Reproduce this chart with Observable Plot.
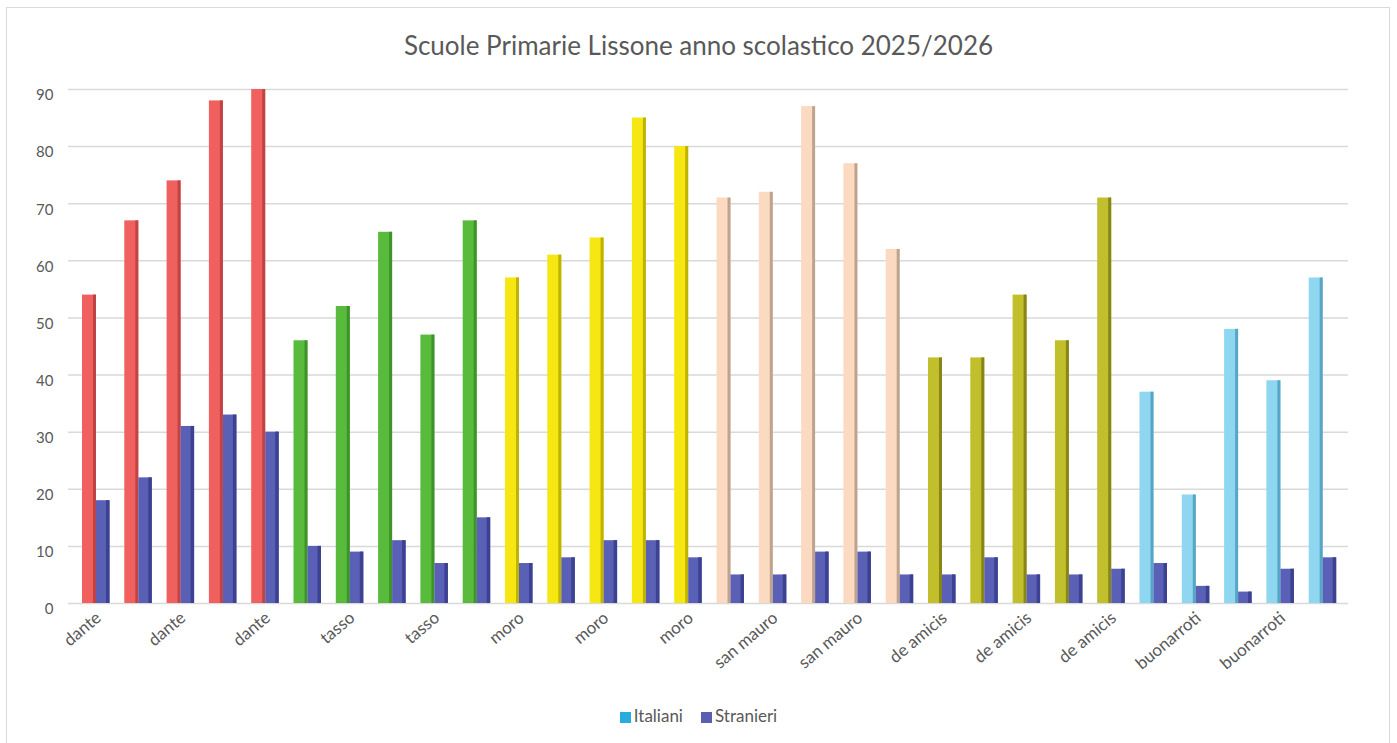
<!DOCTYPE html>
<html>
<head>
<meta charset="utf-8">
<script src="https://cdn.jsdelivr.net/npm/d3@7"></script>
<script src="https://cdn.jsdelivr.net/npm/@observablehq/plot@0.6"></script>
<style>
  html, body { margin: 0; padding: 0; background: #ffffff; }
  #fig { position: relative; width: 1397px; height: 743px; overflow: hidden; font-family: Lato, "Open Sans", sans-serif; }
  #frame { position: absolute; left: 6px; top: 7px; width: 1384px; height: 760px; border: 1px solid #d9d9d9; box-sizing: border-box; }
  #title { position: absolute; left: 0; width: 1397px; top: 28px; text-align: center; font-size: 26px; color: #595959; line-height: 34px; }
  #chart { position: absolute; left: 0; top: 60px; }
  #legend { position: absolute; left: 0; width: 1397px; top: 705px; text-align: center; font-size: 17px; color: #595959; line-height: 22px; }
  #legend span.sw { display: inline-block; width: 11px; height: 11px; margin-right: 3px; vertical-align: -1px; }
  #legend span.item { margin: 0 9px; }
</style>
</head>
<body>
<div id="fig">
  <div id="frame"></div>
  <div id="title">Scuole Primarie Lissone anno scolastico 2025/2026</div>
  <div id="chart"></div>
  <div id="legend"></div>
</div>
<script>
// ---- Data ----
const scuole = [
  "dante","dante","dante","dante","dante",
  "tasso","tasso","tasso","tasso","tasso",
  "moro","moro","moro","moro","moro",
  "san mauro","san mauro","san mauro","san mauro","san mauro",
  "de amicis","de amicis","de amicis","de amicis","de amicis",
  "buonarroti","buonarroti","buonarroti","buonarroti","buonarroti"
];
const italiani = [
  54, 67, 74, 88, 90,
  46, 52, 65, 47, 67,
  57, 61, 64, 85, 80,
  71, 72, 87, 77, 62,
  43, 43, 54, 46, 71,
  37, 19, 48, 39, 57
];
const stranieri = [
  18, 22, 31, 33, 30,
  10, 9, 11, 7, 15,
  7, 8, 11, 11, 8,
  5, 5, 9, 9, 5,
  5, 8, 5, 5, 6,
  7, 3, 2, 6, 8
];
const serie = ["Italiani", "Stranieri"];
const yTicks = [0, 10, 20, 30, 40, 50, 60, 70, 80, 90];

// colours
const coloreScuola = {
  "dante": "#f0605f", "tasso": "#58bb3c", "moro": "#f6e612",
  "san mauro": "#fcdac2", "de amicis": "#c1bf2b", "buonarroti": "#8fd6f1"
};
const bordoScuola = {
  "dante": "#b8403f", "tasso": "#3b8c28", "moro": "#b5a800",
  "san mauro": "#b39a86", "de amicis": "#7d7b14", "buonarroti": "#4f9dbd"
};
const coloreStranieri = "#5b60b7";
const bordoStranieri = "#3c4192";
const coloreLegenda = { "Italiani": "#29abe2", "Stranieri": "#5b5fb4" };

// ---- table ----
const idx = d3.range(scuole.length);
const rows = idx.map(i => ({ i, scuola: scuole[i], italiani: italiani[i], stranieri: stranieri[i] }));
const labelIdx = idx.filter(i => i % 2 === 0);

const W = 1397, H = 660;
const chart = Plot.plot({
  width: W,
  height: H,
  marginLeft: 68,
  marginRight: 49,
  marginTop: 29,
  marginBottom: 117,
  style: { fontFamily: "Lato, 'Open Sans', sans-serif", background: "transparent", overflow: "visible" },
  x: { type: "band", domain: idx, range: [68, 1337], paddingInner: 0, paddingOuter: 0, round: false, axis: null },
  y: { domain: [0, 90], axis: null },
  marks: [
    Plot.ruleY(yTicks, { stroke: "#d9d9d9", strokeWidth: 1.5 }),
    // Italiani bars
    Plot.barY(rows, { x: "i", y: "italiani", fill: d => coloreScuola[d.scuola], insetLeft: 14, insetRight: 14.3 }),
    Plot.barY(rows, { x: "i", y: "italiani", fill: d => bordoScuola[d.scuola], insetLeft: 25, insetRight: 14.3, fillOpacity: 0.85 }),
    // Stranieri bars
    Plot.barY(rows, { x: "i", y: "stranieri", fill: coloreStranieri, insetLeft: 28, insetRight: 0.8 }),
    Plot.barY(rows, { x: "i", y: "stranieri", fill: bordoStranieri, insetLeft: 38, insetRight: 0.8 }),
    // y tick labels
    Plot.text(yTicks, { y: d => d, text: d => String(d), frameAnchor: "left", textAnchor: "end", dx: -15, dy: 6, fontSize: 15, fill: "#595959" }),
    // x labels
    Plot.text(labelIdx, { x: d => d, y: () => 0, text: d => scuole[d], rotate: -40, textAnchor: "end", dx: 9, dy: 12, fontSize: 17, fill: "#595959" })
  ]
});
document.getElementById("chart").appendChild(chart);

// legend
const leg = document.getElementById("legend");
leg.innerHTML = serie.map(s => `<span class="item"><span class="sw" style="background:${coloreLegenda[s]}"></span>${s}</span>`).join("");
</script>
</body>
</html>
